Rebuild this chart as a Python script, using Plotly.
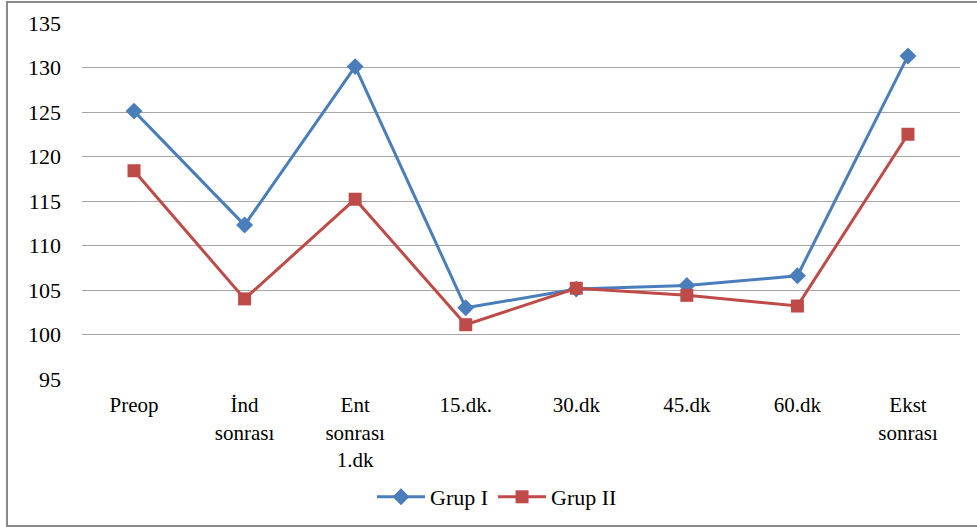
import plotly.graph_objects as go

categories = ["Preop", "İnd<br>sonrası", "Ent<br>sonrası<br>1.dk", "15.dk.", "30.dk",
              "45.dk", "60.dk", "Ekst<br>sonrası"]
grup1 = [125.1, 112.3, 130.1, 103.0, 105.1, 105.5, 106.6, 131.3]
grup2 = [118.4, 104.0, 115.2, 101.1, 105.2, 104.4, 103.2, 122.5]
y_ticks = [95, 100, 105, 110, 115, 120, 125, 130, 135]

W, H = 977, 527
L, R, T, B = 82, 17, 23, 148
pw, ph = W - L - R, H - T - B

font = dict(family="Times New Roman, Liberation Serif, DejaVu Serif, serif", size=22, color="#000000")
xfont = dict(family="Times New Roman, Liberation Serif, DejaVu Serif, serif", size=21, color="#000000")

fig = go.Figure()
fig.add_trace(go.Scatter(
    x=categories, y=grup1, name="Grup I", mode="lines+markers",
    line=dict(color="#4A7EBB", width=3),
    marker=dict(symbol="diamond", size=13, color="#4A7EBB"),
))
fig.add_trace(go.Scatter(
    x=categories, y=grup2, name="Grup II", mode="lines+markers",
    line=dict(color="#BE4B48", width=3),
    marker=dict(symbol="square", size=13, color="#BE4B48"),
))

# outer chart frame
fig.add_shape(
    type="rect", xref="paper", yref="paper",
    x0=(7 - L) / pw, x1=(990 - L) / pw,
    y0=(T + ph - 526) / ph, y1=(T + ph - 2) / ph,
    line=dict(color="#8A8A8A", width=2), fillcolor="rgba(0,0,0,0)", layer="below",
)

fig.update_layout(
    width=W, height=H,
    margin=dict(l=L, r=R, t=T, b=B, autoexpand=False),
    paper_bgcolor="white", plot_bgcolor="white",
    font=font,
    showlegend=True,
    legend=dict(orientation="h", x=(497 - L) / pw, xanchor="center",
                y=(T + ph - 476) / ph, yanchor="top",
                font=font, itemwidth=48, traceorder="normal"),
    xaxis=dict(showgrid=False, showline=True, linecolor="white", linewidth=2,
               ticks="", tickfont=xfont, zeroline=False, automargin=False,
               ticklabelstandoff=6),
    yaxis=dict(range=[95, 135], tickvals=y_ticks, showgrid=True,
               gridcolor="#A6A6A6", gridwidth=1, zeroline=False, showline=False,
               ticks="", tickfont=font, ticklabelstandoff=20, automargin=False),
)

fig.write_html("out.html")
